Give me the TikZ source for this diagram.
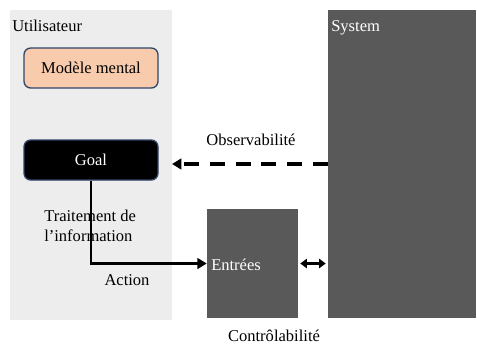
\documentclass[tikz,border=0pt]{standalone}
\usepackage{fontspec}
\setmainfont{Liberation Serif}
\usepackage{xcolor}
\usetikzlibrary{positioning,arrows.meta}

\definecolor{panelgrey}{RGB}{237,237,237}
\definecolor{boxgrey}{RGB}{89,89,89}
\definecolor{peach}{RGB}{248,203,173}
\definecolor{edgeblue}{RGB}{47,70,105}

\begin{document}
\begin{tikzpicture}[x=0.75pt,y=-0.75pt,font=\fontsize{12.4}{15}\selectfont]
\tikzstyle{every node}+=[inner sep=0pt]
\tikzstyle{block}=[rectangle,minimum width=68.25pt,minimum height=81.75pt,fill=boxgrey]
\tikzstyle{roundbox}=[rectangle,rounded corners=5pt,draw=edgeblue,line width=1pt,minimum width=100.5pt,minimum height=30pt]
\tikzstyle{link}=[line width=2.2pt,-{Triangle[length=7pt,width=8pt]}]
\useasboundingbox (0,0) rectangle (477,344);
% utilisateur side
\node [rectangle,fill=panelgrey,minimum width=121.5pt,minimum height=232.5pt] (user) at (91,165) {};
\node [anchor=base west] (userlbl) at (12,31) {Utilisateur};
\node [roundbox,fill=peach] (mental) at (91,68) {Modèle mental};
\node [roundbox,fill=black,text=white] (goal) at (91,160) {Goal};
\node [anchor=north west,align=left] (traitement) at (44,210) {Traitement de\\l’information};
% system side
\node [block,minimum width=111pt,minimum height=231pt] (sys) at (402,164) {};
\node [anchor=base west,text=white] (syslbl) at (331,31) {System};
\node [block] (entrees) at (252.5,263.5) {};
\node [anchor=base west,text=white] (entreeslbl) at (211,270) {Entrées};
% connectors
\coordinate (obsend) at (172,164);
\draw [link,line width=2.8pt,dash pattern=on 11.25pt off 8pt] (sys.west |- obsend) -- (obsend);
\node [anchor=base] (obs) at (251,145) {Observabilité};
\draw [link] (goal.south) |- (entrees.west);
\node [anchor=base] (action) at (127,285) {Action};
\draw [line width=2pt,{Triangle[length=5pt,width=7pt]}-{Triangle[length=5pt,width=7pt]},shorten <=1.5pt,shorten >=1.5pt] (entrees.east) -- (sys.west |- entrees.east);
\node [anchor=base] (ctrl) at (274,341) {Contrôlabilité};
\end{tikzpicture}
\end{document}
